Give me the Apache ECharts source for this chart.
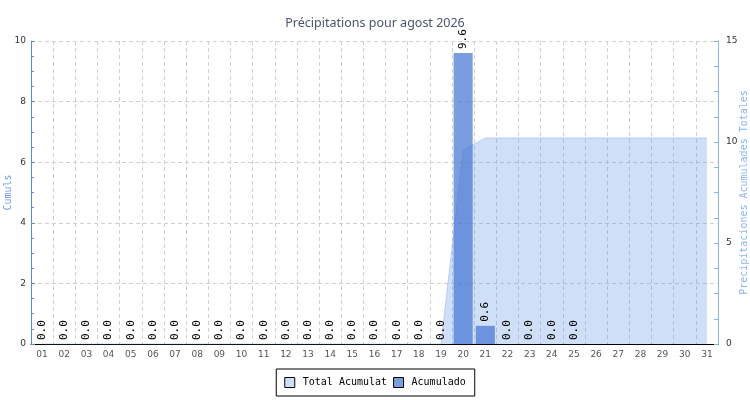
<!DOCTYPE html>
<html>
<head>
<meta charset="utf-8">
<script src="https://cdn.jsdelivr.net/npm/echarts@6/dist/echarts.min.js"></script>
<style>html,body{margin:0;padding:0;background:#fff;}#c{width:750px;height:400px;}</style>
</head>
<body>
<div id="c"></div>
<script>
var days = ['01','02','03','04','05','06','07','08','09','10','11','12','13','14','15','16','17','18','19','20','21','22','23','24','25','26','27','28','29','30','31'];
var daily = [0,0,0,0,0,0,0,0,0,0,0,0,0,0,0,0,0,0,0,9.6,0.6,0,0,0,0,null,null,null,null,null,null];
var cumulative = [0,0,0,0,0,0,0,0,0,0,0,0,0,0,0,0,0,0,0,9.6,10.2,10.2,10.2,10.2,10.2,10.2,10.2,10.2,10.2,10.2,10.2];
var leftTicks = {min:0, max:10, interval:2};
var rightTicks = {min:0, max:15, interval:5};

var chart = echarts.init(document.getElementById('c'));
var mono = 'DejaVu Sans Mono';
chart.setOption({
  animation: false,
  title: {
    text: 'Précipitations pour agost 2026',
    left: 'center', top: 12,
    textStyle: {fontFamily: 'Noto Sans', fontSize: 12.5, fontWeight: 'normal', color: '#4a5470'}
  },
  legend: {
    bottom: 4, left: 'center',
    data: [
      {name: 'Total Acumulat', icon: 'rect', itemStyle: {color: '#d0dff8', borderColor: '#000', borderWidth: 1}},
      {name: 'Acumulado', icon: 'rect', itemStyle: {color: '#779fe0', borderColor: '#000', borderWidth: 1}}
    ],
    borderColor: '#000', borderWidth: 1,
    padding: [8, 9, 8, 8],
    itemWidth: 10, itemHeight: 10, itemGap: 6,
    textStyle: {fontFamily: mono, fontSize: 10, color: '#000', padding: [0, 0, 0, 3]}
  },
  grid: {left: 31, right: 32, top: 41, bottom: 56, outerBoundsMode: 'none', containLabel: false},
  xAxis: {
    type: 'category', data: days, boundaryGap: true,
    axisLine: {lineStyle: {color: '#000', width: 1}},
    axisTick: {inside: true, length: 5, lineStyle: {color: '#000'}},
    axisLabel: {fontFamily: 'DejaVu Sans', fontSize: 9, color: '#555', margin: 6},
    splitLine: {show: true, lineStyle: {color: '#d0d0d0', type: [4, 3]}}
  },
  yAxis: [{
    type: 'value', min: leftTicks.min, max: leftTicks.max, interval: leftTicks.interval,
    name: 'Cumuls', nameLocation: 'middle', nameGap: 18, nameMoveOverlap: false,
    nameTextStyle: {fontFamily: mono, fontSize: 10, color: '#6d9de8'},
    axisLine: {show: true, lineStyle: {color: '#5b8ad8'}},
    axisTick: {show: true, inside: true, length: 4, lineStyle: {color: '#5b8ad8'}},
    minorTick: {show: true, splitNumber: 4, length: 3, lineStyle: {color: '#5b8ad8'}},
    axisLabel: {fontFamily: 'DejaVu Sans', fontSize: 9, color: '#333', margin: 5},
    splitLine: {show: true, lineStyle: {color: '#d0d0d0', type: [4, 3]}}
  }, {
    type: 'value', position: 'right', min: rightTicks.min, max: rightTicks.max, interval: rightTicks.interval,
    name: 'Precipitaciones Acumulades Totales', nameLocation: 'middle', nameGap: 21, nameRotate: 90, nameMoveOverlap: false,
    nameTextStyle: {fontFamily: mono, fontSize: 10, color: '#8ab4f8'},
    axisLine: {show: true, lineStyle: {color: '#8ab4f8'}},
    axisTick: {show: true, inside: true, length: 4, lineStyle: {color: '#8ab4f8'}},
    minorTick: {show: true, splitNumber: 4, length: 4, lineStyle: {color: '#8ab4f8'}},
    axisLabel: {fontFamily: 'DejaVu Sans', fontSize: 9, color: '#333', margin: 8},
    splitLine: {show: false}
  }],
  series: [{
    name: 'Total Acumulat', type: 'line', yAxisIndex: 1, data: cumulative,
    symbol: 'none', z: 1,
    lineStyle: {color: 'rgba(140,175,235,0.5)', width: 1},
    areaStyle: {color: 'rgba(98,148,232,0.3)', opacity: 1},
    itemStyle: {color: '#d0dff8'}
  }, {
    name: 'Acumulado', type: 'bar', yAxisIndex: 0, data: daily,
    barWidth: '86%', z: 2,
    itemStyle: {color: 'rgba(65,115,210,0.7)'},
    label: {
      show: true, position: 'top', rotate: 90, align: 'left', verticalAlign: 'middle', distance: 4,
      fontFamily: mono, fontSize: 11, color: '#000',
      formatter: function (p) { return p.value == null ? '' : p.value.toFixed(1); }
    }
  }]
});
</script>
</body>
</html>
